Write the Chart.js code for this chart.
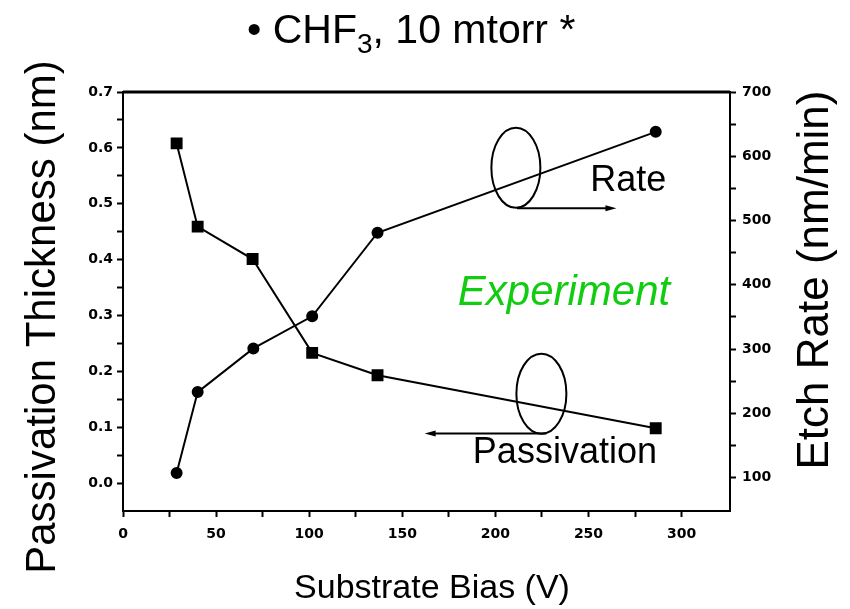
<!DOCTYPE html>
<html lang="en">
<head>
  <meta charset="UTF-8">
  <title>CHF3 passivation / etch rate</title>
  <script src="https://cdn.jsdelivr.net/npm/chart.js@4.4.1/dist/chart.umd.min.js"></script>
  <style>
    html, body { margin: 0; padding: 0; background: #fff; }
    .chart-box { position: relative; width: 850px; height: 609px; }
  </style>
</head>
<body>
  <div class="chart-box"><canvas id="chart_bias" width="850" height="609"></canvas></div>
  <script>
    // ---- data
    var passBias = [28.8, 40.1, 69.6, 101.6, 136.7, 286.1];
    var passThickness = [0.608, 0.459, 0.401, 0.233, 0.193, 0.098];
    var rateBias = [28.8, 40.1, 70.0, 101.6, 136.7, 286.1];
    var etchRate = [107, 233, 301, 351, 481, 638];

    var xTicks = [0, 50, 100, 150, 200, 250, 300];
    var leftTicks = [0.0, 0.1, 0.2, 0.3, 0.4, 0.5, 0.6, 0.7];
    var rightTicks = [100, 200, 300, 400, 500, 600, 700];

    var FONT = '"Liberation Sans", Arial, Helvetica, sans-serif';
    var tickFont = { family: '"DejaVu Sans", sans-serif', size: 14, weight: 'bold' };

    function points(xs, ys) {
      return xs.map(function (x, i) { return { x: x, y: ys[i] }; });
    }
    // major ticks plus a minor tick half way between each pair
    function withMinor(major) {
      var out = [];
      major.forEach(function (v, i) {
        out.push({ value: v });
        if (i < major.length - 1) out.push({ value: (v + major[i + 1]) / 2 });
      });
      return out;
    }
    function isMajor(list, v) {
      return list.some(function (m) { return Math.abs(m - v) < 1e-6; });
    }

    function arrow(ctx, x1, y1, x2, y2) {
      var dir = x2 > x1 ? 1 : -1;
      ctx.beginPath();
      ctx.moveTo(x1, y1);
      ctx.lineTo(x2 - dir * 8, y2);
      ctx.stroke();
      ctx.beginPath();
      ctx.moveTo(x2, y2);
      ctx.lineTo(x2 - dir * 11, y2 - 3);
      ctx.lineTo(x2 - dir * 11, y2 + 3);
      ctx.closePath();
      ctx.fill();
    }

    var decorations = {
      id: 'decorations',
      afterDraw: function (chart) {
        var ctx = chart.ctx, a = chart.chartArea;
        var sx = chart.scales.x, yl = chart.scales.y, yr = chart.scales.y1;
        ctx.save();
        ctx.strokeStyle = '#000';
        ctx.fillStyle = '#000';

        // heavy top frame line
        ctx.lineWidth = 3;
        ctx.beginPath();
        ctx.moveTo(a.left, a.top);
        ctx.lineTo(a.right, a.top);
        ctx.stroke();

        // title with subscript
        ctx.textBaseline = 'alphabetic';
        ctx.textAlign = 'left';
        ctx.font = '41px ' + FONT;
        var tx = 247, ty = 43;
        ctx.fillText('\u2022 CHF', tx, ty);
        tx += ctx.measureText('\u2022 CHF').width;
        ctx.font = '28px ' + FONT;
        ctx.fillText('3', tx, ty + 10);
        tx += ctx.measureText('3').width;
        ctx.font = '41px ' + FONT;
        ctx.fillText(', 10 mtorr *', tx, ty);

        // axis titles
        ctx.textAlign = 'center';
        ctx.textBaseline = 'middle';
        ctx.font = '42px ' + FONT;
        ctx.save();
        ctx.translate(43, 317);
        ctx.rotate(-Math.PI / 2);
        ctx.fillText('Passivation Thickness (nm)', 0, 0);
        ctx.restore();
        ctx.font = '44px ' + FONT;
        ctx.save();
        ctx.translate(816, 280);
        ctx.rotate(-Math.PI / 2);
        ctx.fillText('Etch Rate (nm/min)', 0, 0);
        ctx.restore();
        ctx.font = '34px ' + FONT;
        ctx.textBaseline = 'alphabetic';
        ctx.fillText('Substrate Bias (V)', 432, 598);

        // "Rate" callout
        ctx.lineWidth = 2;
        ctx.beginPath();
        ctx.ellipse(sx.getPixelForValue(211), yr.getPixelForValue(582), 24.5, 40, 0, 0, 2 * Math.PI);
        ctx.stroke();
        arrow(ctx, sx.getPixelForValue(211.6), yr.getPixelForValue(519),
                   sx.getPixelForValue(265), yr.getPixelForValue(519));
        // "Passivation" callout
        ctx.beginPath();
        ctx.ellipse(sx.getPixelForValue(224.7), yl.getPixelForValue(0.160), 25, 40, 0, 0, 2 * Math.PI);
        ctx.stroke();
        arrow(ctx, sx.getPixelForValue(227.4), yl.getPixelForValue(0.0888),
                   sx.getPixelForValue(162), yl.getPixelForValue(0.0888));

        ctx.textAlign = 'left';
        ctx.font = '36px ' + FONT;
        ctx.fillText('Rate', sx.getPixelForValue(251), yr.getPixelForValue(545.7));
        ctx.fillText('Passivation', sx.getPixelForValue(187.9), yl.getPixelForValue(0.0357));
        ctx.fillStyle = '#11cc11';
        ctx.font = 'italic 42px ' + FONT;
        ctx.fillText('Experiment', sx.getPixelForValue(179.8), yr.getPixelForValue(368));
        ctx.restore();
      }
    };

    var ctx = document.getElementById('chart_bias').getContext('2d');
    var chart = new Chart(ctx, {
      type: 'line',
      data: {
        datasets: [{
          label: 'Passivation',
          data: points(passBias, passThickness),
          yAxisID: 'y',
          borderColor: '#000',
          backgroundColor: '#000',
          borderWidth: 2,
          pointStyle: 'rect',
          pointRadius: 7,
          tension: 0
        }, {
          label: 'Rate',
          data: points(rateBias, etchRate),
          yAxisID: 'y1',
          borderColor: '#000',
          backgroundColor: '#000',
          borderWidth: 2,
          pointStyle: 'circle',
          pointRadius: 5,
          tension: 0
        }]
      },
      options: {
        responsive: false,
        animation: false,
        layout: { padding: { top: 92, left: 0, right: 0, bottom: 0 } },
        plugins: { legend: { display: false }, tooltip: { enabled: false } },
        scales: {
          x: {
            type: 'linear', min: 0, max: 326,
            afterBuildTicks: function (s) { s.ticks = withMinor(xTicks); },
            afterFit: function (s) { s.height = 98; },
            ticks: {
              autoSkip: false, maxRotation: 0, padding: 9, color: '#000', font: tickFont,
              callback: function (v) { return isMajor(xTicks, v) ? String(v) : ''; }
            },
            grid: { drawOnChartArea: false, tickLength: 6, tickColor: '#000', tickWidth: 2 },
            border: { color: '#000', width: 2 }
          },
          y: {
            type: 'linear', position: 'left', min: -0.05, max: 0.7,
            afterBuildTicks: function (s) { s.ticks = withMinor(leftTicks); },
            afterFit: function (s) { s.width = 123; },
            ticks: {
              autoSkip: false, padding: 4, color: '#000', font: tickFont,
              callback: function (v) { return isMajor(leftTicks, v) ? v.toFixed(1) : ''; }
            },
            grid: { drawOnChartArea: false, tickLength: 6, tickColor: '#000', tickWidth: 2 },
            border: { color: '#000', width: 2 }
          },
          y1: {
            type: 'linear', position: 'right', min: 48, max: 700,
            afterBuildTicks: function (s) { s.ticks = withMinor(rightTicks); },
            afterFit: function (s) { s.width = 120; },
            ticks: {
              autoSkip: false, padding: 6, color: '#000', font: tickFont,
              callback: function (v) { return isMajor(rightTicks, v) ? String(v) : ''; }
            },
            grid: { drawOnChartArea: false, tickLength: 6, tickColor: '#000', tickWidth: 2 },
            border: { color: '#000', width: 2 }
          }
        }
      },
      plugins: [decorations]
    });
  </script>
</body>
</html>
